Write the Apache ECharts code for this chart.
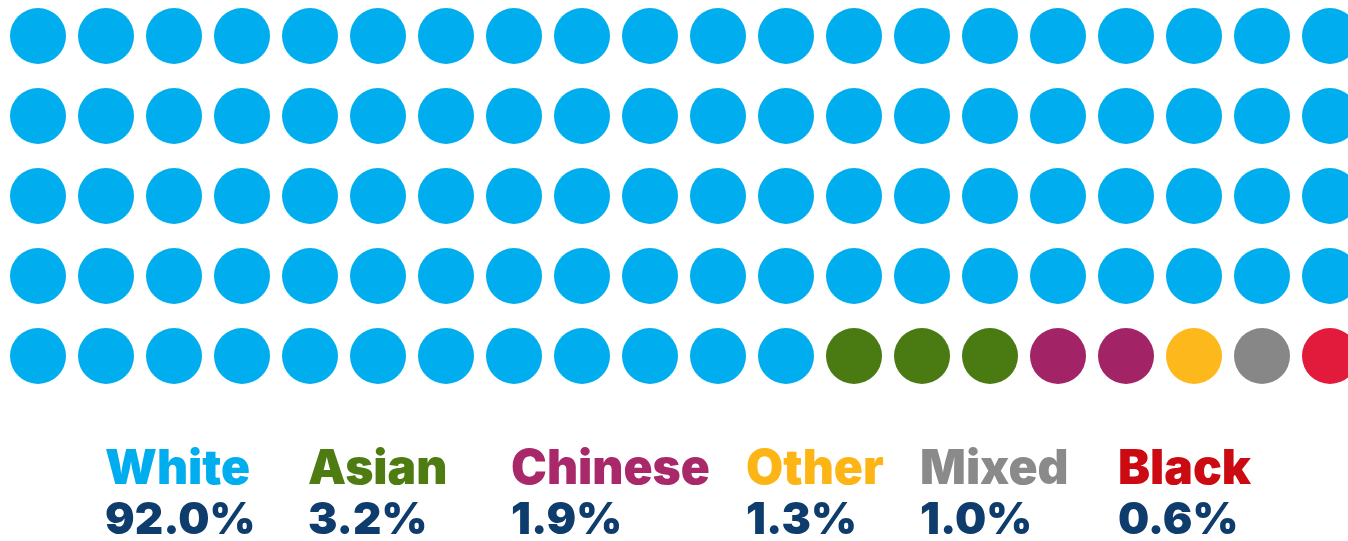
<!DOCTYPE html>
<html>
<head>
<meta charset="utf-8">
<script src="https://cdn.jsdelivr.net/npm/echarts@6/dist/echarts.min.js"></script>
<style>
  html, body { margin: 0; padding: 0; background: #ffffff; }
  #chart { width: 1348px; height: 541px; }
</style>
</head>
<body>
<div id="chart"></div>
<script>
// Ethnic groups, their share of the population and dots out of 100
const categories = ['White', 'Asian', 'Chinese', 'Other', 'Mixed', 'Black'];
const percentLabels = ['92.0%', '3.2%', '1.9%', '1.3%', '1.0%', '0.6%'];
const dotCounts = [92, 3, 2, 1, 1, 1];

// Colours for the dots and the group names
const dotColors = ['#00AEEF', '#4A7A12', '#A22466', '#FDB81B', '#878787', '#E21B3C'];
const nameColors = ['#00AEEF', '#4E7B12', '#A8286A', '#FDB515', '#8A8A8A', '#CC0A12'];
const percentColor = '#0E3C6C';

// Waffle layout: 20 columns by 5 rows
const COLS = 20;
const ROWS = 5;
const COL_STEP = 68, ROW_STEP = 80;     // pixel pitch of the dots
const FIRST_X = 38, FIRST_Y = 36;       // centre of the top-left dot
const W = 1348, H = 541;

// Left edge of each label block
const labelLeft = [105, 308, 511, 746, 920, 1118];

const series = [];
let idx = 0;
categories.forEach(function (name, c) {
  const pts = [];
  for (let k = 0; k < dotCounts[c]; k++) {
    pts.push([idx % COLS, Math.floor(idx / COLS)]);
    idx++;
  }
  series.push({
    name: name,
    type: 'scatter',
    symbol: 'circle',
    symbolSize: 56,
    clip: false,
    silent: true,
    itemStyle: { color: dotColors[c], opacity: 1 },
    data: pts
  });
});

const fontFamily = 'Inter, "Open Sans", sans-serif';
const graphics = [];
categories.forEach(function (name, c) {
  graphics.push({
    type: 'text',
    left: labelLeft[c],
    top: 446,
    style: {
      text: name,
      fill: nameColors[c],
      font: '900 48px ' + fontFamily
    }
  });
  graphics.push({
    type: 'text',
    left: labelLeft[c],
    top: 499,
    style: {
      text: percentLabels[c],
      fill: percentColor,
      font: '900 44px ' + fontFamily
    }
  });
});

const chart = echarts.init(document.getElementById('chart'), null, { renderer: 'canvas' });
chart.setOption({
  animation: false,
  backgroundColor: '#ffffff',
  // the grid fills the canvas; the axis ranges place the dot centres
  grid: { left: 0, top: 0, right: 0, bottom: 0 },
  xAxis: {
    type: 'value',
    min: -FIRST_X / COL_STEP,
    max: (W - FIRST_X) / COL_STEP,
    show: false, splitLine: { show: false }
  },
  yAxis: {
    type: 'value',
    min: -FIRST_Y / ROW_STEP,
    max: (H - FIRST_Y) / ROW_STEP,
    inverse: true,
    show: false, splitLine: { show: false }
  },
  series: series,
  graphic: graphics
});
</script>
</body>
</html>
